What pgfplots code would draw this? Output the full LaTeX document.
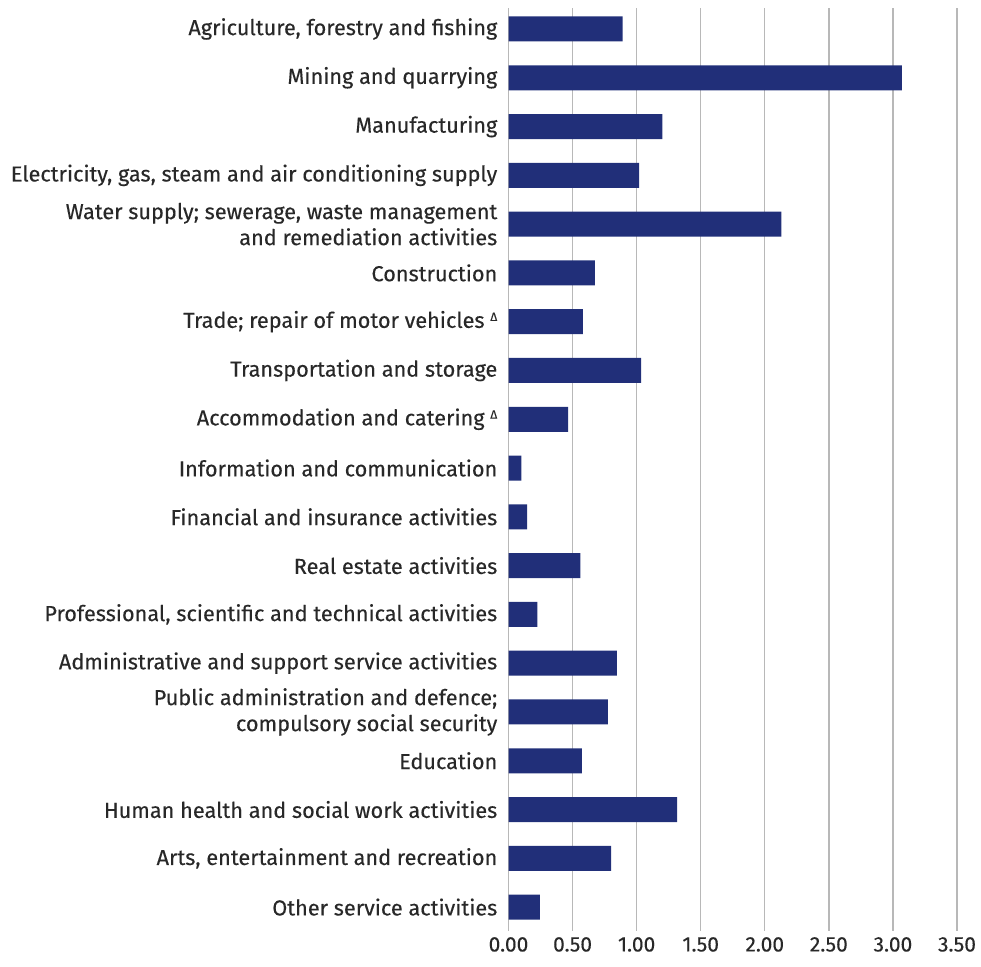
\documentclass[border=0pt]{standalone}
\usepackage{pgfplots}
\pgfplotsset{compat=1.18}
\usepackage{fontspec}
\setmainfont[FakeBold=0.25]{Fira Sans}
\definecolor{barblue}{RGB}{33,47,121}
\definecolor{txt}{RGB}{40,40,40}
\newcommand{\tri}{\raisebox{0.6ex}{\fontsize{12bp}{12bp}\selectfont Δ}}
\begin{document}
\begin{tikzpicture}
\begin{axis}[
  at={(508.5bp,36bp)}, anchor=south west,
  scale only axis, width=448.5bp, height=923bp,
  xbar, bar width=25bp,
  xmin=0, xmax=3.5,
  ymin=-0.43, ymax=18.49, y dir=reverse,
  xtick={0,0.5,...,3.5},
  ytick={0,...,18},
  yticklabels={
    {Agriculture, forestry and fishing},
    {Mining and quarrying},
    {Manufacturing},
    {Electricity, gas, steam and air conditioning supply},
    {Water supply; sewerage, waste management\\and remediation activities},
    {Construction},
    {Trade; repair of motor vehicles \tri},
    {Transportation and storage},
    {Accommodation and catering \tri},
    {Information and communication},
    {Financial and insurance activities},
    {Real estate activities},
    {Professional, scientific and technical activities},
    {Administrative and support service activities},
    {Public administration and defence;\\compulsory social security},
    {Education},
    {Human health and social work activities},
    {Arts, entertainment and recreation},
    {Other service activities}},
  yticklabel style={align=right, inner sep=0pt, xshift=-11bp, font=\fontsize{21.7bp}{26bp}\selectfont, text=txt},
  xticklabel style={inner sep=0pt, yshift=-6bp, font=\fontsize{21bp}{24bp}\selectfont, text=txt,
    /pgf/number format/.cd, fixed, fixed zerofill, precision=2},
  /pgf/number format/assume math mode=true,
  major tick length=0pt,
  axis line style={draw=none},
  xmajorgrids, major grid style={draw=black!28, line width=1.3bp},
  clip=false,
]
\addplot[fill=barblue, draw=none] coordinates {
  (0.89,0) (3.07,1) (1.20,2) (1.02,3) (2.13,4) (0.675,5) (0.58,6) (1.035,7)
  (0.465,8) (0.10,9) (0.145,10) (0.56,11) (0.225,12) (0.845,13) (0.775,14)
  (0.573,15) (1.315,16) (0.80,17) (0.245,18)
};
\end{axis}
\pgfresetboundingbox
\path (0,0) rectangle (981bp,967bp);
\end{tikzpicture}
\end{document}
